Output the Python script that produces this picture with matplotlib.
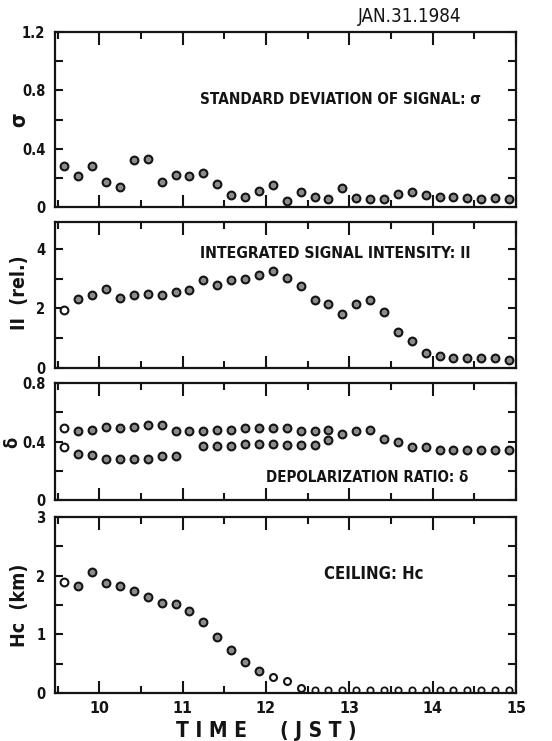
import matplotlib
matplotlib.use("Agg")
import matplotlib.pyplot as plt
from matplotlib.ticker import MultipleLocator, FuncFormatter
import numpy as np

plt.rcParams["font.family"] = ["DejaVu Sans"]
plt.rcParams["font.stretch"] = "condensed"
plt.rcParams["font.weight"] = "bold"

W, H = 552, 741

times = ["09:35", "09:45", "09:55", "10:05", "10:15", "10:25", "10:35", "10:45",
         "10:55", "11:05", "11:15", "11:25", "11:35", "11:45", "11:55", "12:05",
         "12:15", "12:25", "12:35", "12:45", "12:55", "13:05", "13:15", "13:25",
         "13:35", "13:45", "13:55", "14:05", "14:15", "14:25", "14:35", "14:45",
         "14:55"]

sigma = [0.28, 0.21, 0.28, 0.17, 0.14, 0.32, 0.33, 0.17, 0.22, 0.21, 0.23, 0.16,
         0.08, 0.07, 0.11, 0.15, 0.04, 0.10, 0.07, 0.055, 0.13, 0.065, 0.053, 0.055,
         0.09, 0.10, 0.08, 0.07, 0.066, 0.062, 0.055, 0.062, 0.053]

intensity = [1.94, 2.31, 2.46, 2.65, 2.36, 2.44, 2.47, 2.46, 2.55, 2.63, 2.94, 2.80,
             2.94, 2.98, 3.11, 3.24, 3.01, 2.76, 2.29, 2.15, 1.82, 2.16, 2.29, 1.87,
             1.20, 0.89, 0.52, 0.40, 0.33, 0.33, 0.33, 0.33, 0.27]

depol_upper = [0.49, 0.47, 0.48, 0.50, 0.49, 0.50, 0.51, 0.51, 0.47, 0.47, 0.47, 0.48,
               0.48, 0.49, 0.49, 0.49, 0.49, 0.47, 0.47, 0.48, 0.45, 0.47, 0.48, 0.42,
               0.40, 0.36, 0.365, 0.345, 0.345, 0.342, 0.342, 0.342, 0.342]

nan = float("nan")
depol_lower = [0.365, 0.314, 0.309, 0.277, 0.279, 0.277, 0.277, 0.298, 0.298, nan,
               0.372, 0.372, 0.372, 0.384, 0.384, 0.384, 0.377, 0.377, 0.377, 0.412,
               nan, nan, nan, nan, nan, nan, nan, nan, nan, nan, nan, nan, nan]

ceiling = [1.90, 1.82, 2.07, 1.88, 1.82, 1.74, 1.64, 1.54, 1.51, 1.40, 1.21, 0.95,
           0.74, 0.53, 0.38, 0.28, 0.21, 0.09, 0.05, 0.05, 0.05, 0.05, 0.05, 0.05,
           0.05, 0.05, 0.05, 0.05, 0.05, 0.05, 0.05, 0.05, 0.05]

x_ticklabels = ["10", "11", "12", "13", "14", "15"]

t = np.array([int(s[:2]) + int(s[3:]) / 60 for s in times])

GREY = "#8c8c8c"
INK = "#141414"


def px(x, y):
    return x / W, 1 - y / H


def axes_box(top, bottom, left=55, right=516):
    return [left / W, 1 - bottom / H, (right - left) / W, (bottom - top) / H]


def style(ax, ylim, ymajor, yminor):
    ax.set_xlim(9.47, 15.0)
    ax.set_ylim(*ylim)
    ax.xaxis.set_major_locator(MultipleLocator(1))
    ax.xaxis.set_minor_locator(MultipleLocator(0.5))
    ax.yaxis.set_major_locator(MultipleLocator(ymajor))
    ax.yaxis.set_minor_locator(MultipleLocator(yminor))
    ax.tick_params(which="both", direction="in", top=True, right=True,
                   width=1.5, colors=INK, labelsize=10.5)
    ax.tick_params(axis="x", which="major", length=9)
    ax.tick_params(axis="x", which="minor", length=5)
    ax.tick_params(axis="y", which="both", length=6, pad=7)
    ax.tick_params(axis="x", labelbottom=False)
    for s in ax.spines.values():
        s.set_linewidth(1.6)
        s.set_color(INK)


def dots(ax, x, y, face=GREY, ms=5.6, mew=1.5):
    ax.plot(x, y, "o", ms=ms, mfc=face, mec=INK, mew=mew, ls="none")


def decimal_fmt(v, p):
    return "0" if v == 0 else f"{v:.1f}"


fig = plt.figure(figsize=(W / 100, H / 100), dpi=100)

# panel 1: standard deviation
ax1 = fig.add_axes(axes_box(32, 207))
style(ax1, (0, 1.2), 0.4, 0.2)
ax1.yaxis.set_major_formatter(FuncFormatter(decimal_fmt))
dots(ax1, t, sigma)
fig.text(*px(410, 17), "JAN.31.1984", ha="center", va="center", fontsize=13.5,
         fontweight="normal", color=INK)
fig.text(*px(341, 100), "STANDARD DEVIATION OF SIGNAL: σ", ha="center", va="center",
         fontsize=11, color=INK)
fig.text(*px(19, 120), "σ", rotation=90, ha="center", va="center", fontsize=15, color=INK)

# panel 2: integrated intensity
ax2 = fig.add_axes(axes_box(222, 368))
style(ax2, (0, 4.9), 2, 1)
dots(ax2, t[1:], intensity[1:])
dots(ax2, t[:1], intensity[:1], face="white")
fig.text(*px(335, 253), "INTEGRATED SIGNAL INTENSITY: II", ha="center", va="center",
         fontsize=11.3, color=INK)
fig.text(*px(20, 293), "II  (rel.)", rotation=90, ha="center", va="center",
         fontsize=14, color=INK)

# panel 3: depolarization ratio
ax3 = fig.add_axes(axes_box(383, 500))
style(ax3, (0, 0.8), 0.4, 0.2)
ax3.yaxis.set_major_formatter(FuncFormatter(decimal_fmt))
dots(ax3, t[1:], depol_upper[1:])
dots(ax3, t[1:], depol_lower[1:])
dots(ax3, t[:1], depol_upper[:1], face="white")
dots(ax3, t[:1], depol_lower[:1], face="white")
fig.text(*px(367, 478), "DEPOLARIZATION RATIO: δ", ha="center", va="center",
         fontsize=10.8, color=INK)
fig.text(*px(12, 442), "δ", rotation=90, ha="center", va="center", fontsize=13, color=INK)

# panel 4: ceiling
ax4 = fig.add_axes(axes_box(517, 693))
style(ax4, (0, 3), 1, 0.5)
dots(ax4, t[1:15], ceiling[1:15])
dots(ax4, t[:1], ceiling[:1], face="white")
dots(ax4, t[15:18], ceiling[15:18], face="white", ms=5.0)
dots(ax4, t[18:], ceiling[18:], face="white", ms=4.5, mew=1.3)
ax4.tick_params(axis="x", labelbottom=True, pad=6, labelsize=11.5)
ax4.set_xticks(range(10, 16))
ax4.set_xticklabels(x_ticklabels)
fig.text(*px(374, 574), "CEILING: Hc", ha="center", va="center", fontsize=12, color=INK)
fig.text(*px(19, 605), "Hc  (km)", rotation=90, ha="center", va="center",
         fontsize=14, color=INK)
fig.text(*px(212, 731), "T I M E", ha="center", va="center", fontsize=15, color=INK)
fig.text(*px(318, 731), "( J S T )", ha="center", va="center", fontsize=15, color=INK)

fig.savefig("out.png", dpi=100)
